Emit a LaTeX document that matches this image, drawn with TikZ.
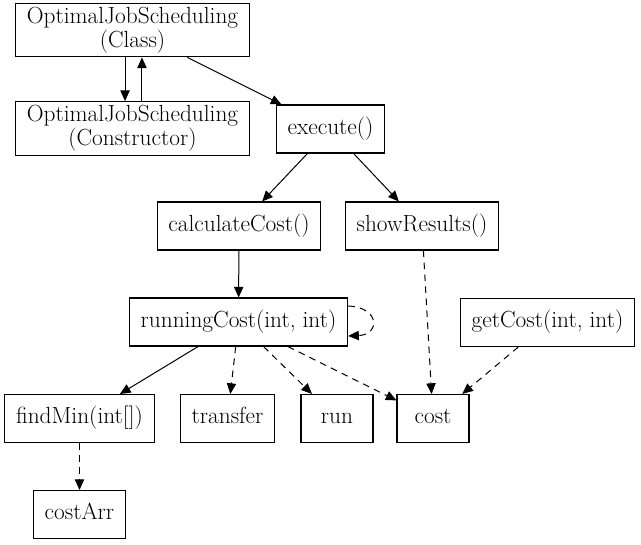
\documentclass[tikz,border=0pt]{standalone}
\usetikzlibrary{arrows.meta}
\begin{document}
\begin{tikzpicture}[x=.75pt,y=-.75pt,
    box/.style={draw,line width=.8pt,align=center,font=\fontsize{17.5}{16.5}\selectfont,
      inner xsep=8.5pt,inner ysep=3pt,minimum width=54pt,minimum height=36pt},
    line/.style={box,text height=12.5pt,text depth=4.3pt},
    call/.style={-{Triangle[length=8pt,width=7pt]},line width=.75pt},
    dep/.style={call,dash pattern=on 5pt off 4pt}]
  \useasboundingbox (0,0) rectangle (641,544);
  \node[box] (cls) at (132.5,30) {OptimalJobScheduling\\(Class)};
  \node[box] (ctor) at (132.5,128.5) {OptimalJobScheduling\\(Constructor)};
  \node[line] (exec) at (330.5,129) {execute()};
  \node[line] (calc) at (239,226) {calculateCost()};
  \node[line] (show) at (422,226) {showResults()};
  \node[line] (rc) at (238.5,322) {runningCost(int, int)};
  \node[line] (get) at (547.5,322.5) {getCost(int, int)};
  \node[line] (fmin) at (79.5,418.5) {findMin(int[])};
  \node[line] (trans) at (227.5,418.5) {transfer};
  \node[line] (run) at (337,418.5) {run};
  \node[line] (cost) at (433,418.5) {cost};
  \node[line] (carr) at (79.5,514.5) {costArr};
  \draw[call] ([xshift=-5.6pt]cls.south) -- ([xshift=-5.6pt]ctor.north);
  \draw[call] ([xshift=7.1pt]ctor.north) -- ([xshift=7.1pt]cls.south);
  \draw[call] (cls) -- (exec);
  \draw[call] (exec) -- (calc);
  \draw[call] (exec) -- (show);
  \draw[call] (calc) -- (rc);
  \draw[call] (rc) -- (fmin);
  \draw[dep] (rc) -- (trans);
  \draw[dep] (rc) -- (run);
  \draw[dep] (rc) -- (cost);
  \draw[dep] (show) -- (cost);
  \draw[dep] (get) -- (cost);
  \draw[dep] (fmin) -- (carr);
  \draw[dep] ([yshift=12pt]rc.east) .. controls +(24pt,-1pt) and +(24pt,1pt) .. ([yshift=-10.5pt]rc.east);
\end{tikzpicture}
\end{document}
